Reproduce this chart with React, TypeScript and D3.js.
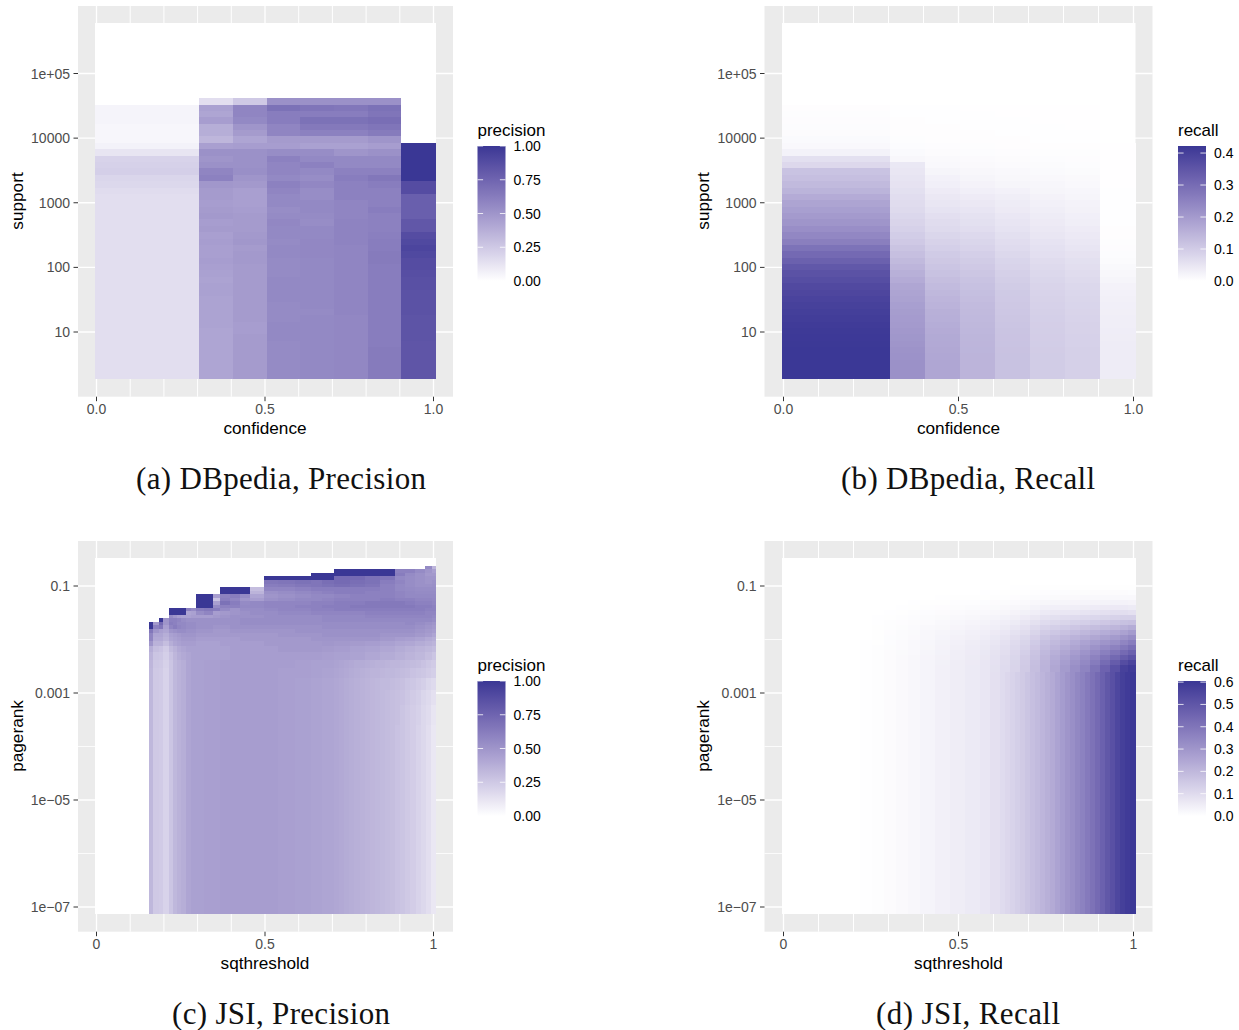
import React from "react";
import * as d3 from "d3";

const _ = null;

// ---- DBpedia: confidence bins (edges) and support bins (log10 edges, uniform bins)
const confidenceEdges = [-0.005, 0.305, 0.405, 0.505, 0.605, 0.705, 0.805, 0.905, 1.0075];
const supportLogTop = 4.618;
const supportLogBottom = 0.273;

// precision in percent, per confidence bin, from the highest support bin down
const precisionConf0 = [_,5,5,5,4,4,4,6,12,20, 21,22,19,18,16,15,15,15,15,15, 15,15,15,15,15,15,15,15,15,15, 15,15,15,15,15,15,15,15,15,15, 15,15,15,15];
const precisionConf1 = [15,44,42,46,38,38,34,45,52,50, 52,58,60,49,47,47,46,47,48,46, 47,45,46,45,45,46,45,44,43,44, 44,43,43,43,43,43,42,42,42,42, 42,42,42,42];
const precisionConf2 = [25,58,58,56,50,47,42,46,52,52, 52,53,50,48,45,45,45,46,47,47, 47,48,49,47,48,48,47,47,47,47, 47,47,47,47,47,46,46,47,47,47, 47,47,47,47];
const precisionConf3 = [52,68,62,62,58,58,47,46,54,60, 58,58,56,60,58,56,56,54,55,57, 56,56,55,56,56,55,55,55,56,56, 56,56,55,55,55,56,56,56,55,55, 55,55,55,55];
const precisionConf4 = [52,66,62,68,64,60,47,44,54,56, 60,56,54,57,54,54,56,56,55,54, 56,56,57,57,57,56,56,56,56,56, 56,56,56,55,56,56,56,56,56,56, 56,56,56,56];
const precisionConf5 = [52,65,62,68,64,60,47,44,50,56, 56,60,62,60,60,60,58,58,58,59, 59,59,59,58,58,58,58,58,58,58, 58,58,58,58,57,57,57,57,57,57, 57,57,57,57];
const precisionConf6 = [52,68,66,70,66,63,50,46,52,56, 56,60,65,62,60,60,60,62,60,60, 60,61,62,62,63,63,62,62,62,62, 62,62,62,62,62,62,62,62,62,63, 63,63,63,63];
const precisionConf7 = [_,_,_,_,_,_,_,100,100,100, 100,100,100,88,88,78,78,78,78,82, 82,88,90,92,90,88,88,87,86,86, 85,85,85,85,84,84,84,84,83,83, 83,83,83,83];
const dbpediaPrecision = [precisionConf0, precisionConf1, precisionConf2, precisionConf3, precisionConf4, precisionConf5, precisionConf6, precisionConf7];

// recall in thousandths, per confidence bin
const recallConf0 = [_,3,4,5,6,7,10,14,25,60, 75,118,125,135,148,165,180,190,200,212, 225,240,258,285,305,325,345,358,368,378, 385,392,398,403,408,412,414,416,418,420, 420,420,420,420];
const recallConf1 = [_,2,2,3,3,3,4,6,10,16, 45,48,52,55,60,65,68,72,78,84, 90,98,105,115,125,135,145,155,165,175, 180,185,190,195,198,200,204,208,212,216, 218,220,220,220];
const recallConf2 = [_,2,2,2,3,3,3,5,7,11, 14,20,26,30,38,44,48,54,62,68, 72,80,88,94,102,108,114,120,128,134, 140,145,150,155,158,162,165,168,170,172, 174,175,175,175];
const recallConf3 = [_,1,2,2,2,3,3,4,6,9, 11,16,20,24,30,38,44,50,56,60, 66,74,80,86,94,100,106,112,118,122, 126,130,134,136,138,140,142,144,145,146, 147,147,147,147];
const recallConf4 = [_,1,1,2,2,2,3,3,5,7, 9,13,16,20,26,32,36,40,46,50, 54,60,66,70,76,82,86,92,96,100, 104,106,108,110,112,114,116,117,118,119, 120,120,120,120];
const recallConf5 = [_,1,1,1,2,2,2,3,4,6, 8,10,14,17,20,24,28,32,36,40, 44,48,54,58,62,68,72,76,80,84, 86,88,90,92,94,95,96,97,98,99, 100,100,100,100];
const recallConf6 = [_,1,1,1,1,2,2,3,4,5, 6,8,11,14,17,20,24,27,30,33, 38,42,46,50,55,60,64,68,72,76, 78,80,82,84,86,87,88,89,90,91, 92,92,92,92];
const recallConf7 = [_,_,_,_,_,_,_,1,1,1, 1,1,1,1,2,2,2,2,2,2, 3,3,4,5,6,8,12,16,20,24, 26,28,30,31,32,33,34,35,36,36, 37,37,37,37];
const dbpediaRecall = [recallConf0, recallConf1, recallConf2, recallConf3, recallConf4, recallConf5, recallConf6, recallConf7];

// ---- JSI precision: sqthreshold edges, log10 pagerank edges, percent values by row (top down)
const jsiPrecisionX = [0.156,0.168,0.185,0.197,0.215,0.227,0.239,0.251,0.266,0.28,0.295,0.319,0.346,0.366,0.396,0.426,0.455,0.497,0.539,0.589,0.636,0.669,0.705,0.752,0.797,0.841,0.886,0.915,0.945,0.975,0.996,1.0074];
const jsiPrecisionY = [-0.626,-0.682,-0.757,-0.813,-0.888,-0.963,-1.019,-1.093,-1.15,-1.224,-1.28,-1.355,-1.411,-1.467,-1.542,-1.598,-1.673,-1.729,-1.804,-1.879,-1.953,-2.028,-2.121,-2.234,-2.383,-2.533,-2.72,-2.944,-3.224,-3.598,-7.131];
const jsiPrecision = [
  [_,_,_,_, _,_,_,_, _,_, _,_, _, _,_,_, _, _,_,_, _,_, _,_,_,_, _,_,_, 55,35],
  [_,_,_,_, _,_,_,_, _,_, _,_, _, _,_,_, _, _,_,_, _,_, 100,100,100,100, 60,60,55, 50,45],
  [_,_,_,_, _,_,_,_, _,_, _,_, _, _,_,_, _, _,_,_, 100,100, 100,100,100,100, 62,55,52, 48,48],
  [_,_,_,_, _,_,_,_, _,_, _,_, _, _,_,_, _, 100,100,100, 100,100, 72,72,68,66, 56,54,52, 50,50],
  [_,_,_,_, _,_,_,_, _,_, _,_, _, _,_,_, _, 65,66,68, 66,70, 72,70,68,62, 58,54,52, 50,52],
  [_,_,_,_, _,_,_,_, _,_, _,_, _, _,_,_, _, 62,63,65, 66,68, 70,68,66,60, 56,54,52, 52,53],
  [_,_,_,_, _,_,_,_, _,_, _,_, _, 100,100,100, 30, 58,58,60, 62,62, 62,62,62,60, 56,55,54, 54,54],
  [_,_,_,_, _,_,_,_, _,_, _,_, _, 100,100,100, 35, 52,54,56, 58,60, 62,62,60,60, 58,56,55, 55,55],
  [_,_,_,_, _,_,_,_, _,_, 100,100, 45, 60,62,55, 42, 50,52,54, 56,56, 58,60,60,60, 58,56,56, 56,56],
  [_,_,_,_, _,_,_,_, _,_, 100,100, 28, 62,58,50, 46, 52,54,56, 56,58, 60,60,60,62, 60,60,58, 58,57],
  [_,_,_,_, _,_,_,_, _,_, 100,100, 45, 68,62,55, 56, 58,58,58, 60,60, 62,62,64,64, 64,62,60, 60,58],
  [_,_,_,_, _,_,_,_, _,_, 100,100, 55, 60,60,56, 56, 58,58,60, 60,62, 62,64,64,64, 64,64,62, 62,60],
  [_,_,_,_, 100,100,100,100, 60,55, 62,64, 62, 55,50,54, 54, 56,58,58, 60,60, 62,62,62,62, 62,62,62, 60,60],
  [_,_,_,_, 100,100,100,100, 42,44, 54,58, 46, 48,50,52, 54, 54,56,56, 58,58, 58,58,60,60, 60,60,60, 58,58],
  [_,_,_,_, 55,50,46,44, 44,46, 46,46, 48, 50,52,52, 52, 54,54,54, 54,56, 56,56,58,58, 58,58,58, 58,56],
  [_,_,100,50, 60,60,58,54, 52,52, 52,52, 52, 52,52,54, 54, 54,54,54, 54,56, 56,56,56,56, 56,56,56, 56,54],
  [100,48,72,50, 62,60,56,56, 54,54, 52,52, 52, 52,52,54, 54, 54,54,54, 54,54, 54,54,54,54, 54,56,54, 52,50],
  [100,60,65,45, 58,62,58,56, 54,54, 52,52, 50, 50,52,52, 52, 52,52,52, 52,54, 54,54,54,54, 54,54,52, 50,48],
  [65,50,45,42, 50,52,54,54, 52,52, 50,50, 48, 48,50,50, 50, 50,50,52, 52,52, 52,52,52,52, 52,52,50, 48,46],
  [58,42,42,38, 44,46,48,50, 50,50, 48,48, 48, 48,48,48, 48, 48,50,50, 50,52, 52,52,52,50, 50,50,48, 46,42],
  [58,40,40,36, 42,44,46,48, 48,48, 46,46, 46, 46,46,48, 48, 48,48,48, 50,50, 50,50,50,48, 46,45,43, 40,38],
  [50,36,36,30, 38,42,44,46, 46,46, 44,44, 44, 46,46,46, 46, 48,48,48, 48,49, 48,47,46,44, 42,41,39, 37,35],
  [38,30,28,24, 32,36,40,42, 44,44, 44,44, 44, 44,46,46, 46, 46,48,48, 48,47, 46,44,43,41, 39,37,35, 33,31],
  [35,27,26,22, 28,34,38,40, 42,44, 44,44, 44, 44,46,46, 46, 46,46,46, 46,45, 44,43,41,39, 37,35,33, 30,27],
  [34,26,25,21, 27,33,36,38, 42,44, 44,45, 45, 46,46,46, 46, 46,46,45, 44,44, 43,41,39,37, 35,33,31, 27,24],
  [33,25,24,20, 27,33,36,38, 42,44, 44,45, 45, 46,46,46, 46, 46,45,45, 44,43, 42,40,38,35, 33,31,28, 25,22],
  [33,25,24,20, 27,33,36,38, 42,44, 44,45, 45, 46,46,46, 46, 46,45,44, 43,42, 41,39,37,34, 31,28,25, 21,17],
  [33,25,24,20, 27,33,36,38, 42,44, 44,45, 45, 46,46,46, 46, 46,45,44, 43,42, 41,39,36,33, 30,26,22, 18,14],
  [33,25,24,20, 27,33,36,38, 42,44, 44,45, 45, 46,46,46, 46, 46,45,44, 43,42, 41,38,35,32, 29,25,20, 16,12],
  [33,25,24,20, 27,33,36,38, 42,44, 44,45, 45, 46,46,46, 46, 46,45,44, 43,42, 41,38,35,32, 28,24,19, 15,11],
];
// finer reading of the lower right corner of the same heatmap
const jsiPrecisionCornerX = [0.705,0.7201,0.7352,0.7503,0.7654,0.7805,0.7956,0.8107,0.8258,0.8409,0.856,0.8711,0.8862,0.9013,0.9164,0.9315,0.9466,0.9617,0.9768,0.9919,1.0074];
const jsiPrecisionCornerY = [-2.383,-2.533,-2.72,-2.944,-3.224,-3.598,-7.131];
const jsiPrecisionCorner = [
  [43,42,41,40,39,39,38,37,36,36,35,34,34,33,32,31,30,28,26,24],
  [42,41,40,39,38,37,36,35,35,34,33,33,32,31,30,28,27,26,24,22],
  [41,40,39,38,37,36,35,34,33,32,32,31,30,29,27,26,24,22,19,17],
  [41,40,39,38,37,36,35,34,33,32,31,30,29,28,26,24,22,19,17,14],
  [41,40,39,38,37,36,35,34,33,32,31,30,29,27,25,23,21,18,16,12],
  [41,40,39,38,37,36,35,34,33,32,31,30,28,27,25,23,20,18,15,11],
];

// ---- JSI recall: thousandths, by row (top down)
const jsiRecallX = [-0.004,0.219,0.253,0.287,0.321,0.356,0.39,0.433,0.476,0.519,0.561,0.59,0.619,0.647,0.676,0.704,0.733,0.761,0.79,0.819,0.847,0.876,0.904,0.933,0.961,0.984,1.006];
const jsiRecallY = [-0.477,-0.981,-1.075,-1.168,-1.262,-1.355,-1.449,-1.542,-1.636,-1.729,-1.822,-1.916,-2.009,-2.103,-2.196,-2.29,-2.383,-2.477,-2.607,-7.131];
const jsiRecall = [
  [0,0,0,0,0,0,0,0,0,0,0,0,0,0,0,0,0,0,0,0,0,0,0,0,0,0],
  [0,0,0,0,0,0,0,0,1,1,1,1,1,2,2,3,3,3,3,4,4,4,4,4,4,3],
  [0,0,0,0,0,0,1,1,1,1,2,2,3,4,4,6,7,8,8,9,9,10,10,10,10,8],
  [0,0,0,0,1,1,1,2,3,3,4,5,6,7,9,11,14,15,16,17,18,18,19,20,20,18],
  [0,0,0,1,1,2,3,4,5,6,8,10,12,14,17,21,26,27,28,29,30,32,34,36,35,32],
  [0,0,1,1,2,3,5,7,9,11,13,15,18,22,26,33,40,43,45,48,50,54,57,60,60,55],
  [0,0,1,2,4,5,8,10,13,16,19,22,26,32,39,48,58,62,66,70,75,80,85,90,90,85],
  [0,0,2,4,6,8,11,15,19,23,27,31,36,44,54,67,80,86,93,99,105,112,118,125,130,130],
  [0,1,2,5,7,10,14,19,24,29,34,40,46,56,68,84,100,109,118,127,135,146,155,165,175,180],
  [0,1,3,6,9,13,18,23,29,35,41,48,56,68,82,102,122,134,146,158,170,183,195,205,220,235],
  [0,1,3,7,11,15,21,27,34,41,48,57,66,80,95,118,142,156,170,185,200,217,232,245,265,285],
  [0,1,4,8,12,17,23,30,38,45,53,64,75,91,108,133,160,178,196,213,230,250,268,285,308,330],
  [0,2,4,8,13,18,25,33,41,49,58,69,82,99,118,146,175,195,215,238,260,283,303,320,350,375],
  [0,2,5,9,14,19,26,35,44,52,61,74,88,105,126,155,185,208,232,256,280,308,335,360,390,420],
  [0,2,5,10,15,20,28,37,46,54,64,78,92,111,135,165,198,224,250,278,305,335,368,400,435,465],
  [0,2,5,10,16,21,29,38,48,56,67,80,96,115,141,172,205,235,265,295,325,360,400,440,480,510],
  [0,2,5,10,16,22,30,39,49,57,68,82,98,118,145,178,210,243,276,308,340,380,430,480,530,560],
  [0,2,5,10,16,22,30,40,50,58,69,84,100,120,148,182,213,250,285,320,355,405,460,515,570,590],
  [0,2,5,10,16,22,30,40,50,58,70,85,102,122,150,185,215,255,290,330,370,420,480,545,590,605],
];
// finer reading of the right part of the lowest row
const jsiRecallCornerX = [0.619,0.6333,0.6476,0.6619,0.6762,0.6905,0.7048,0.7191,0.7334,0.7477,0.762,0.7763,0.7906,0.8049,0.8192,0.8335,0.8478,0.8621,0.8764,0.8907,0.905,0.9193,0.9336,0.9479,0.9622,0.9765,0.9908,1.006];
const jsiRecallCornerY = [-2.607,-7.131];
const jsiRecallCorner = [
  [100,110,122,135,148,162,178,192,207,222,240,260,282,302,322,342,362,385,410,435,465,495,520,550,575,590,602],
];

// ---- Axis and legend labels
const confidenceTicks = [0, 0.5, 1];
const confidenceTickLabels = ["0.0", "0.5", "1.0"];
const sqthresholdTickLabels = ["0", "0.5", "1"];
const xGrid = [0, 0.1, 0.2, 0.3, 0.4, 0.5, 0.6, 0.7, 0.8, 0.9, 1];
const supportTicks = [10, 100, 1000, 10000, 100000];
const supportTickLabels = ["10", "100", "1000", "10000", "1e+05"];
const pagerankTicks = [1e-7, 1e-5, 1e-3, 0.1];
const pagerankTickLabels = ["1e\u221207", "1e\u221205", "0.001", "0.1"];
const pagerankMinor = [1e-6, 1e-4, 1e-2];
const precisionLegend = [0, 0.25, 0.5, 0.75, 1];
const precisionLegendLabels = ["0.00", "0.25", "0.50", "0.75", "1.00"];
const recallLegendB = [0, 0.1, 0.2, 0.3, 0.4];
const recallLegendD = [0, 0.1, 0.2, 0.3, 0.4, 0.5, 0.6];

const ramp = d3.interpolateLab("#ffffff", "#3a3795");
const GRAY = "#EBEBEB";
const SANS = "'Liberation Sans', Arial, sans-serif";
const SERIF = "'Liberation Serif', 'Times New Roman', serif";

type Cell = { x0: number; x1: number; y0: number; y1: number; v: number };

function Panel(p: any) {
  const { left, top, width, x0px, x1px, yScale, yTicks, yLabels, yMinor, xLabels, xTitle, yTitle,
    cells, color, legendId, legendTitle, legendTicks, legendLabels, legendMax, caption, captionWidth, rasterL, rasterR, legX } = p;
  const panelH = 390.7;
  const xS = d3.scaleLinear().domain([0, 1]).range([x0px, x1px]);
  const bottom = top + panelH;
  const legTop = top + 140;
  const leg0 = top + 275;
  const legS = d3.scaleLinear().domain([0, legendMax]).range([leg0, legTop]);
  const stops = d3.range(0, 21).map((i: number) => i / 20);
  const cx = (x0px + x1px) / 2;
  return (
    <g>
      <defs>
        <linearGradient id={legendId} x1="0" y1="1" x2="0" y2="0">
          {stops.map((s: number) => <stop key={s} offset={s} stopColor={ramp(s)} />)}
        </linearGradient>
      </defs>
      <rect x={left} y={top} width={width} height={panelH} fill={GRAY} />
      {xGrid.map((g) => (
        <line key={g} x1={xS(g)} x2={xS(g)} y1={top} y2={bottom} stroke="#fff"
          strokeWidth={g === 0 || g === 0.5 || g === 1 ? 1.3 : 1} />
      ))}
      {yTicks.map((t: number) => (
        <line key={t} x1={left} x2={left + width} y1={yScale(t)} y2={yScale(t)} stroke="#fff" strokeWidth={1.3} />
      ))}
      {yMinor.map((t: number) => (
        <line key={t} x1={left} x2={left + width} y1={yScale(t)} y2={yScale(t)} stroke="#fff" strokeWidth={0.8} />
      ))}
      <rect x={rasterL} y={top + 17} width={rasterR - rasterL} height={356} fill="#fff" />
      <g shapeRendering="crispEdges">
        {cells.map((c: Cell, i: number) => (
          <rect key={i} x={xS(c.x0)} width={xS(c.x1) - xS(c.x0)} y={yScale(10 ** c.y1)}
            height={yScale(10 ** c.y0) - yScale(10 ** c.y1)} fill={color(c.v)} />
        ))}
      </g>
      {yTicks.map((t: number, i: number) => (
        <g key={t}>
          <line x1={left - 4.5} x2={left} y1={yScale(t)} y2={yScale(t)} stroke="#333" strokeWidth={1} />
          <text x={left - 8} y={yScale(t) + 5} textAnchor="end" fontSize={14} fill="#4d4d4d" fontFamily={SANS}>{yLabels[i]}</text>
        </g>
      ))}
      {confidenceTicks.map((t, i) => (
        <g key={t}>
          <line x1={xS(t)} x2={xS(t)} y1={bottom} y2={bottom + 4.5} stroke="#333" strokeWidth={1} />
          <text x={xS(t)} y={bottom + 17} textAnchor="middle" fontSize={14} fill="#4d4d4d" fontFamily={SANS}>{xLabels[i]}</text>
        </g>
      ))}
      <text x={cx} y={bottom + 37} textAnchor="middle" fontSize={17.2} fill="#000" fontFamily={SANS}>{xTitle}</text>
      <text transform={`translate(${left - 55.5},${top + 195}) rotate(-90)`} textAnchor="middle" fontSize={17.2} fill="#000" fontFamily={SANS}>{yTitle}</text>

      <text x={legX} y={top + 130} fontSize={17} fill="#000" fontFamily={SANS}>{legendTitle}</text>
      <rect x={legX} y={legTop} width={28} height={leg0 - legTop} fill={`url(#${legendId})`} />
      {legendTicks.map((t: number, i: number) => (
        <g key={t}>
          {i > 0 && <line x1={legX} x2={legX + 5.6} y1={legS(t)} y2={legS(t)} stroke="#fff" strokeWidth={0.8} />}
          {i > 0 && <line x1={legX + 22.4} x2={legX + 28} y1={legS(t)} y2={legS(t)} stroke="#fff" strokeWidth={0.8} />}
          <text x={legX + 36} y={legS(t) + 5} fontSize={14} fill="#000" fontFamily={SANS}>{legendLabels[i]}</text>
        </g>
      ))}

      <text x={p.captionX} y={bottom + 92} fontSize={31} fill="#111" fontFamily={SERIF}
        textLength={captionWidth} lengthAdjust="spacing">{caption}</text>
    </g>
  );
}

function columnCells(edges: number[], columns: (number | null)[][], logTop: number, logBottom: number, unit: number): Cell[] {
  const n = columns[0].length;
  const step = (logTop - logBottom) / n;
  const out: Cell[] = [];
  columns.forEach((col, c) => col.forEach((v, r) => {
    if (v !== null) out.push({ x0: edges[c], x1: edges[c + 1], y1: logTop - r * step, y0: logTop - (r + 1) * step, v: v / unit });
  }));
  return out;
}

function rowCells(xs: number[], ys: number[], rows: (number | null)[][], unit: number): Cell[] {
  const out: Cell[] = [];
  rows.forEach((row, r) => row.forEach((v, c) => {
    if (v !== null) out.push({ x0: xs[c], x1: xs[c + 1], y1: ys[r], y0: ys[r + 1], v: v / unit });
  }));
  return out;
}

export default function App() {
  const ySupport = d3.scaleLog().domain([10, 100000]).range([332, 73.5]);
  const yPagerank = d3.scaleLog().domain([1e-7, 0.1]).range([907, 586]);

  const colorP = (v: number) => ramp(Math.min(1, v));
  const colorRecallB = (v: number) => ramp(Math.min(1, v / 0.422));
  const colorRecallD = (v: number) => ramp(Math.min(1, v / 0.605));

  const commonA = { yScale: ySupport, yTicks: supportTicks, yLabels: supportTickLabels, yMinor: [], xLabels: confidenceTickLabels, xTitle: "confidence", yTitle: "support", top: 6 };
  const commonJ = { yScale: yPagerank, yTicks: pagerankTicks, yLabels: pagerankTickLabels, yMinor: pagerankMinor, xLabels: sqthresholdTickLabels, xTitle: "sqthreshold", yTitle: "pagerank", top: 541 };
  const leftP = { left: 78, width: 375, x0px: 96.5, x1px: 433.5, rasterL: 95, rasterR: 436, legX: 477.5 };
  const rightP = { left: 764.5, width: 388, x0px: 783.5, x1px: 1133.5, rasterL: 782, rasterR: 1135.5, legX: 1178 };

  return (
    <svg width={1239} height={1030} viewBox="0 0 1239 1030" style={{ position: "absolute", left: 0, top: 0, background: "#fff" }}>
      <Panel {...commonA} {...leftP}
        cells={columnCells(confidenceEdges, dbpediaPrecision, supportLogTop, supportLogBottom, 100)}
        color={colorP} legendId="lg-a" legendTitle="precision" legendTicks={precisionLegend} legendLabels={precisionLegendLabels} legendMax={1}
        caption="(a) DBpedia, Precision" captionX={136} captionWidth={290} />
      <Panel {...commonA} {...rightP}
        cells={columnCells(confidenceEdges, dbpediaRecall, supportLogTop, supportLogBottom, 1000)}
        color={colorRecallB} legendId="lg-b" legendTitle="recall" legendTicks={recallLegendB} legendLabels={recallLegendB.map((d) => d.toFixed(1))} legendMax={0.422}
        caption="(b) DBpedia, Recall" captionX={841} captionWidth={254} />
      <Panel {...commonJ} {...leftP}
        cells={[...rowCells(jsiPrecisionX, jsiPrecisionY, jsiPrecision, 100), ...rowCells(jsiPrecisionCornerX, jsiPrecisionCornerY, jsiPrecisionCorner, 100)]}
        color={colorP} legendId="lg-c" legendTitle="precision" legendTicks={precisionLegend} legendLabels={precisionLegendLabels} legendMax={1}
        caption="(c) JSI, Precision" captionX={172} captionWidth={218} />
      <Panel {...commonJ} {...rightP}
        cells={[...rowCells(jsiRecallX, jsiRecallY, jsiRecall, 1000), ...rowCells(jsiRecallCornerX, jsiRecallCornerY, jsiRecallCorner, 1000)]}
        color={colorRecallD} legendId="lg-d" legendTitle="recall" legendTicks={recallLegendD} legendLabels={recallLegendD.map((d) => d.toFixed(1))} legendMax={0.605}
        caption="(d) JSI, Recall" captionX={876} captionWidth={184} />
    </svg>
  );
}
